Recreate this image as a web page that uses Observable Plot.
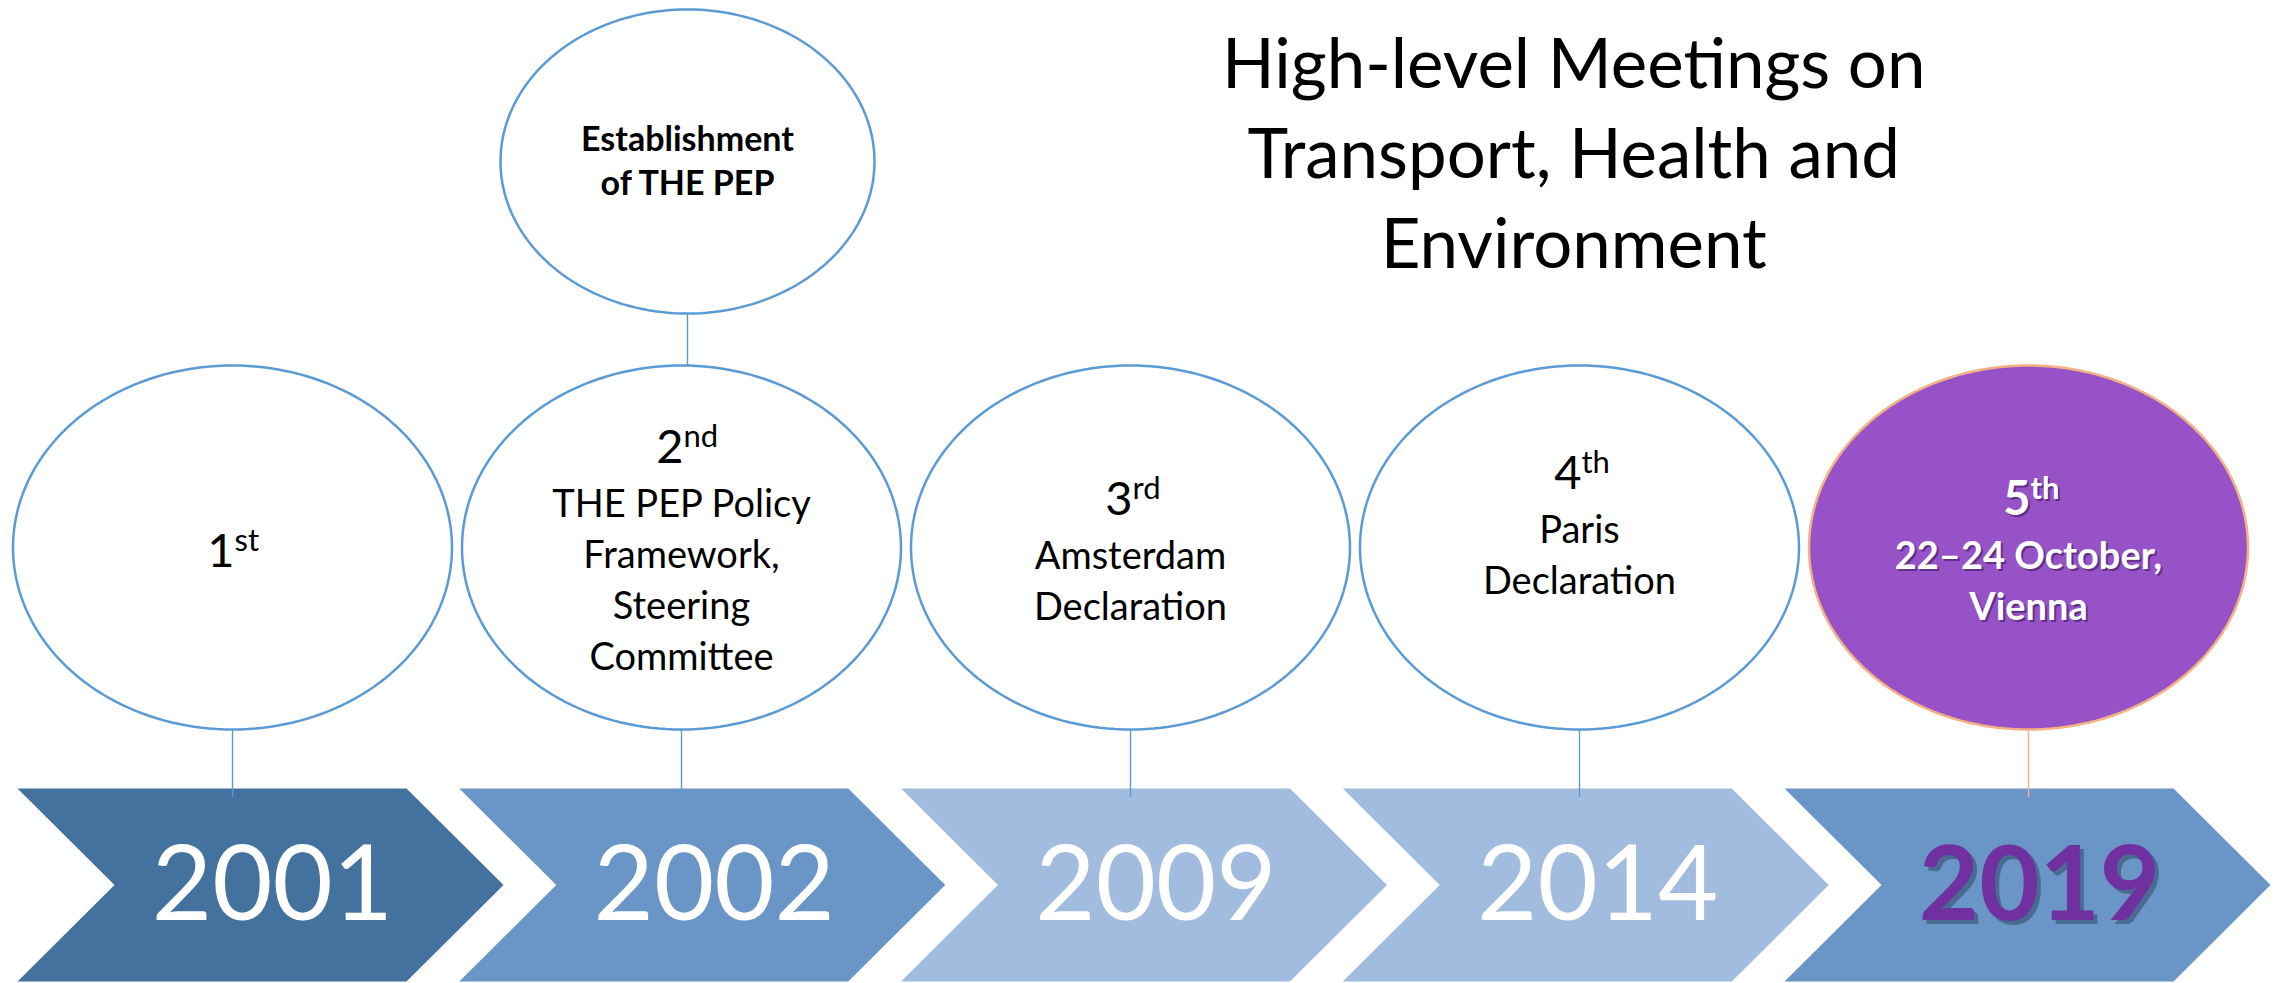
<!DOCTYPE html>
<html>
<head>
<meta charset="utf-8">
<script src="https://cdn.jsdelivr.net/npm/d3@7"></script>
<script src="https://cdn.jsdelivr.net/npm/@observablehq/plot@0.6"></script>
<style>
  html, body { margin: 0; padding: 0; background: #ffffff; }
  svg { display: block; }
</style>
</head>
<body>
<div id="chart"></div>
<script>
// ---------- data ----------
const years = ["2001", "2002", "2009", "2014", "2019"];
const ordinals = ["1", "2", "3", "4", "5"];
const suffixes = ["st", "nd", "rd", "th", "th"];
const descriptions = [
  [],
  ["THE PEP Policy", "Framework,", "Steering", "Committee"],
  ["Amsterdam", "Declaration"],
  ["Paris", "Declaration", ""],
  ["22–24 October,", "Vienna"]
];
const highlightYear = "2019";
const establishmentYear = "2002";
const establishmentLines = ["Establishment", "of THE PEP"];
const titleLines = ["High-level Meetings on", "Transport, Health and", "Environment"];
const titleAboveYear = "2014";

// ---------- styles / layout (pixel units converted through the scales) ----------
const W = 2277, H = 983;
const PITCH = 441.75;       // horizontal distance between chevrons
const COL0 = 248;           // reference column centre
const u = px => px / PITCH; // pixel length -> x units
const ELL_PITCH = 449;      // ellipse spacing
const ELL0 = 232;           // first ellipse centre
const ellX = i => u(ELL0 - COL0) + i * (ELL_PITCH / PITCH);
const chevronFills = ["#44729E", "#6996C6", "#A1BCDF", "#A1BCDF", "#6996C6"];
const BLUE = "#5B9BD5";
const ORANGE = "#F4B183";
const PURPLE_FILL = "#9752C8";
const PURPLE_TEXT = "#7030A0";

const chevTop = 788, chevBot = 981, chevMid = (788 + 981) / 2;
const ellCy = 547, ellRy = 182, ellRx = 219.5;
const topCy = 161, topRy = 152, topRx = 187;

const meetings = years.map((year, i) => ({
  i, ex: ellX(i), year, ordinal: ordinals[i], suffix: suffixes[i], desc: descriptions[i], hi: year === highlightYear
}));

// ellipse outlines
function ellipsePoints(key, cx, cy, rx, ry) {
  const pts = [];
  const n = 180;
  for (let k = 0; k < n; k++) {
    const t = (2 * Math.PI * k) / n;
    pts.push({key, x: cx + rx * Math.cos(t), y: cy + ry * Math.sin(t)});
  }
  return pts;
}
const ellNormal = meetings.filter(m => !m.hi).flatMap(m => ellipsePoints(m.year, m.ex, ellCy, u(ellRx), ellRy));
const ellHi = meetings.filter(m => m.hi).flatMap(m => ellipsePoints(m.year, m.ex, ellCy, u(ellRx), ellRy));
const estIndex = years.indexOf(establishmentYear);
const estX = ellX(estIndex) + u(6);
const ellTop = ellipsePoints("est", estX, topCy, u(topRx), topRy);

// chevrons
const chevPts = meetings.flatMap(m => {
  const L = m.i - u(231);
  return [
    [L, chevTop], [L + u(389), chevTop], [L + u(486), chevMid],
    [L + u(389), chevBot], [L, chevBot], [L + u(97), chevMid]
  ].map(([x, y]) => ({key: m.year, x, y, fill: chevronFills[m.i]}));
});

// text rows inside ellipses
const ordinalRows = [];
const descRows = [];
meetings.forEach(m => {
  const nLines = 1 + m.desc.length;
  const top = 566 - (nLines - 1) * 26;
  ordinalRows.push({...m, y: top});
  m.desc.forEach((line, k) => {
    if (line) descRows.push({ex: m.ex, hi: m.hi, text: line, y: top + 54 + 51 * k});
  });
});
const estRows = establishmentLines.map((text, k) => ({x: estX, text, y: 150 + 44 * k}));
const titleIndex = years.indexOf(titleAboveYear);
const titleRows = titleLines.map((text, k) => ({i: titleIndex, text, y: 87 + 90 * k}));

const yearX = m => m.i + u(24);

const chart = Plot.plot({
  width: W,
  height: H,
  margin: 0,
  x: {domain: [-u(COL0), u(W - COL0)], range: [0, W], axis: null},
  y: {domain: [0, H], range: [0, H], axis: null},
  color: {type: "identity"},
  style: {fontFamily: "Lato, 'Open Sans', sans-serif", background: "#ffffff", overflow: "visible"},
  marks: [
    // ellipses
    Plot.line(ellTop, {x: "x", y: "y", z: "key", curve: "linear-closed", fill: "white", stroke: BLUE, strokeWidth: 2.5}),
    Plot.line(ellNormal, {x: "x", y: "y", z: "key", curve: "linear-closed", fill: "white", stroke: BLUE, strokeWidth: 2.5}),
    Plot.line(ellHi, {x: "x", y: "y", z: "key", curve: "linear-closed", fill: PURPLE_FILL, stroke: ORANGE, strokeWidth: 2.5}),
    // chevrons
    Plot.line(chevPts, {x: "x", y: "y", z: "key", curve: "linear-closed", fill: "fill", stroke: "none"}),
    // connectors
    Plot.ruleX(meetings.filter(m => !m.hi), {x: "ex", y1: ellCy + ellRy, y2: chevTop + 9, stroke: BLUE, strokeWidth: 1.4}),
    Plot.ruleX(meetings.filter(m => m.hi), {x: "ex", y1: ellCy + ellRy, y2: chevTop + 9, stroke: ORANGE, strokeWidth: 1.4}),
    Plot.ruleX([estX], {x: d => d, y1: topCy + topRy, y2: ellCy - ellRy, stroke: BLUE, strokeWidth: 1.4}),
    // years
    Plot.text(meetings.filter(m => !m.hi), {x: yearX, y: () => 919, text: "year", lineAnchor: "bottom", fill: "white", fontSize: 104}),
    Plot.text(meetings.filter(m => m.hi), {x: yearX, y: () => 919, text: "year", lineAnchor: "bottom", fill: "#2B3F5C", fillOpacity: 0.5, fontSize: 104, fontWeight: "bold", dx: 4, dy: 4}),
    Plot.text(meetings.filter(m => m.hi), {x: yearX, y: () => 919, text: "year", lineAnchor: "bottom", fill: PURPLE_TEXT, fontSize: 104, fontWeight: "bold"}),
    // ordinals (normal)
    Plot.text(ordinalRows.filter(m => !m.hi), {x: "ex", y: "y", text: "ordinal", lineAnchor: "bottom", textAnchor: "end", dx: 2, fill: "black", fontSize: 47}),
    Plot.text(ordinalRows.filter(m => !m.hi), {x: "ex", y: "y", text: "suffix", lineAnchor: "bottom", textAnchor: "start", dx: 2, dy: -16, fill: "black", fontSize: 31}),
    // ordinals (highlight) with shadow
    Plot.text(ordinalRows.filter(m => m.hi), {x: "ex", y: "y", text: "ordinal", lineAnchor: "bottom", textAnchor: "end", dx: 4, dy: 2, fill: "#3a1a55", fillOpacity: 0.6, fontSize: 47, fontWeight: "bold"}),
    Plot.text(ordinalRows.filter(m => m.hi), {x: "ex", y: "y", text: "suffix", lineAnchor: "bottom", textAnchor: "start", dx: 4, dy: -14, fill: "#3a1a55", fillOpacity: 0.6, fontSize: 31, fontWeight: "bold"}),
    Plot.text(ordinalRows.filter(m => m.hi), {x: "ex", y: "y", text: "ordinal", lineAnchor: "bottom", textAnchor: "end", dx: 2, fill: "white", fontSize: 47, fontWeight: "bold"}),
    Plot.text(ordinalRows.filter(m => m.hi), {x: "ex", y: "y", text: "suffix", lineAnchor: "bottom", textAnchor: "start", dx: 2, dy: -16, fill: "white", fontSize: 31, fontWeight: "bold"}),
    // descriptions
    Plot.text(descRows.filter(d => !d.hi), {x: "ex", y: "y", text: "text", lineAnchor: "bottom", fill: "black", fontSize: 38}),
    Plot.text(descRows.filter(d => d.hi), {x: "ex", y: "y", text: "text", lineAnchor: "bottom", dx: 2, dy: 2, fill: "#3a1a55", fillOpacity: 0.6, fontSize: 38, fontWeight: "bold"}),
    Plot.text(descRows.filter(d => d.hi), {x: "ex", y: "y", text: "text", lineAnchor: "bottom", fill: "white", fontSize: 38, fontWeight: "bold"}),
    // establishment
    Plot.text(estRows, {x: "x", y: "y", text: "text", lineAnchor: "bottom", fill: "black", fontSize: 34, fontWeight: "bold"}),
    // title
    Plot.text(titleRows, {x: "i", y: "y", text: "text", lineAnchor: "bottom", fill: "black", fontSize: 69})
  ]
});
document.getElementById("chart").append(chart);
</script>
</body>
</html>
